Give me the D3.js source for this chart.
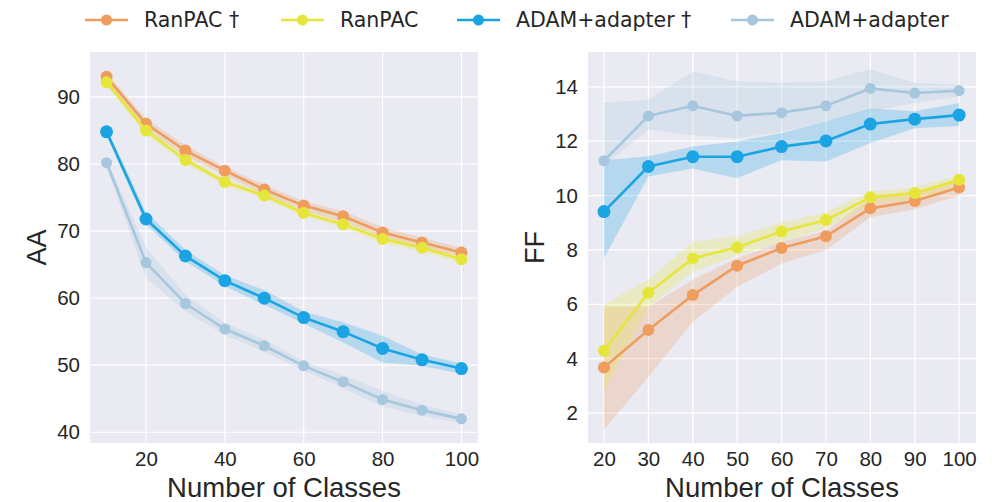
<!DOCTYPE html>
<html>
<head>
<meta charset="utf-8">
<script src="https://cdn.jsdelivr.net/npm/d3@7"></script>
<style>
  body { margin: 0; background: #fff; }
  text { font-family: "Liberation Sans", Arial, sans-serif; fill: #262626; }
  .legend text { font-family: "DejaVu Sans", sans-serif; }
</style>
</head>
<body>
<div id="chart"></div>
<script>
const width = 992;
const height = 502;

// series names and colours
const seriesNames = ["RanPAC †", "RanPAC", "ADAM+adapter †", "ADAM+adapter"];
const seriesColors = ["#EE9D5F", "#E6E63A", "#1AA4E3", "#A6C7DE"];
const markerRadius = [6, 6, 6.5, 5.5];

// left panel: AA
const classesAA = [10, 20, 30, 40, 50, 60, 70, 80, 90, 100];
const aaRanpacDag = [93, 86, 82, 79, 76.2, 73.8, 72.2, 69.8, 68.3, 66.8];
const aaRanpacDagLo = [92.3, 85.2, 81.2, 78.3, 75.5, 73.1, 71.4, 69.0, 67.6, 66.1];
const aaRanpacDagHi = [93.6, 86.8, 82.8, 79.6, 76.9, 74.5, 73.0, 70.6, 69.0, 67.5];
const aaRanpac = [92.2, 85, 80.6, 77.3, 75.3, 72.7, 71, 68.8, 67.5, 65.8];
const aaRanpacLo = [91.7, 84.4, 80.0, 76.8, 74.8, 72.2, 70.5, 68.2, 66.9, 65.2];
const aaRanpacHi = [92.7, 85.6, 81.2, 77.8, 75.8, 73.2, 71.5, 69.4, 68.1, 66.4];
const aaAdamDag = [84.8, 71.8, 66.3, 62.6, 60, 57.1, 55, 52.5, 50.8, 49.5];
const aaAdamDagLo = [84.2, 71.0, 65.5, 61.8, 59.0, 56.2, 53.4, 50.4, 49.9, 48.7];
const aaAdamDagHi = [85.4, 72.8, 67.2, 63.4, 61.2, 58.0, 56.4, 54.4, 51.6, 50.3];
const aaAdam = [80.2, 65.3, 59.2, 55.4, 52.9, 49.9, 47.5, 44.9, 43.3, 42];
const aaAdamLo = [79.6, 63.0, 58.0, 54.5, 52.0, 49.2, 46.6, 43.8, 42.5, 41.3];
const aaAdamHi = [80.8, 67.6, 60.5, 56.3, 53.8, 50.6, 48.5, 46.2, 44.1, 42.7];
const aaXTicks = [20, 40, 60, 80, 100];
const aaYTicks = [40, 50, 60, 70, 80, 90];

// right panel: FF
const classesFF = [20, 30, 40, 50, 60, 70, 80, 90, 100];
const ffRanpacDag = [3.68, 5.06, 6.34, 7.42, 8.07, 8.5, 9.53, 9.8, 10.3];
const ffRanpacDagLo = [1.4, 3.33, 5.36, 6.65, 7.5, 8.0, 9.2, 9.5, 10.0];
const ffRanpacDagHi = [5.9, 5.9, 6.9, 7.7, 8.3, 8.7, 9.9, 10.1, 10.55];
const ffRanpac = [4.29, 6.43, 7.69, 8.1, 8.68, 9.1, 9.94, 10.09, 10.58];
const ffRanpacLo = [2.8, 5.9, 7.2, 7.8, 8.3, 8.8, 9.7, 9.85, 10.35];
const ffRanpacHi = [6.0, 6.9, 8.3, 8.5, 9.0, 9.4, 10.15, 10.3, 10.75];
const ffAdamDag = [9.41, 11.07, 11.43, 11.43, 11.8, 12.01, 12.63, 12.81, 12.96];
const ffAdamDagLo = [7.7, 10.7, 11.0, 10.64, 11.3, 11.25, 11.93, 12.48, 12.56];
const ffAdamDagHi = [11.3, 11.45, 11.8, 11.99, 12.3, 12.72, 13.2, 13.1, 13.4];
const ffAdam = [11.28, 12.93, 13.3, 12.93, 13.05, 13.3, 13.94, 13.77, 13.86];
const ffAdamLo = [11.1, 12.42, 12.23, 12.1, 12.35, 12.72, 13.1, 13.4, 13.64];
const ffAdamHi = [13.4, 13.52, 14.56, 14.2, 14.15, 14.2, 14.65, 14.15, 14.07];
const ffXTicks = [20, 30, 40, 50, 60, 70, 80, 90, 100];
const ffYTicks = [2, 4, 6, 8, 10, 12, 14];

const svg = d3.select("#chart").append("svg")
    .attr("width", width)
    .attr("height", height);

function drawPanel(opts) {
    const x = d3.scaleLinear().domain(opts.xDomain).range([opts.left, opts.right]);
    const y = d3.scaleLinear().domain(opts.yDomain).range([opts.bottom, opts.top]);
    const g = svg.append("g");

    g.append("rect")
        .attr("x", opts.left).attr("y", opts.top)
        .attr("width", opts.right - opts.left)
        .attr("height", opts.bottom - opts.top)
        .attr("fill", "#EAEAF2");

    // grid
    g.selectAll(".gx").data(opts.xTicks).join("line")
        .attr("x1", d => x(d)).attr("x2", d => x(d))
        .attr("y1", opts.top).attr("y2", opts.bottom)
        .attr("stroke", "#fff").attr("stroke-width", 1.2);
    g.selectAll(".gy").data(opts.yTicks).join("line")
        .attr("y1", d => y(d)).attr("y2", d => y(d))
        .attr("x1", opts.left).attr("x2", opts.right)
        .attr("stroke", "#fff").attr("stroke-width", 1.2);

    // axes (no domain line, labels only)
    const xAxis = g.append("g")
        .attr("transform", `translate(0,${opts.bottom})`)
        .call(d3.axisBottom(x).tickValues(opts.xTicks).tickSize(0).tickPadding(8));
    const yAxis = g.append("g")
        .attr("transform", `translate(${opts.left},0)`)
        .call(d3.axisLeft(y).tickValues(opts.yTicks).tickSize(0).tickPadding(10));
    [xAxis, yAxis].forEach(a => {
        a.select(".domain").remove();
        a.selectAll("text")
            .style("font-family", '"Liberation Sans", Arial, sans-serif')
            .style("font-size", "20.5px")
            .attr("fill", "#3a3a3a");
    });

    g.append("text")
        .attr("x", (opts.left + opts.right) / 2)
        .attr("y", 497)
        .attr("text-anchor", "middle")
        .style("font-size", "27.5px")
        .text("Number of Classes");

    g.append("text")
        .attr("transform", `translate(${opts.yLabelX},${(opts.top + opts.bottom) / 2}) rotate(-90)`)
        .attr("text-anchor", "middle")
        .style("font-size", "27px")
        .text(opts.yLabel);

    // bands first, then lines and markers
    opts.series.forEach((s, i) => {
        const area = d3.area()
            .x((d, j) => x(opts.classes[j]))
            .y0((d, j) => y(s.lo[j]))
            .y1((d, j) => y(s.hi[j]));
        g.append("path")
            .attr("d", area(s.mean))
            .attr("fill", seriesColors[i])
            .attr("fill-opacity", 0.25);
    });

    opts.series.forEach((s, i) => {
        const line = d3.line()
            .x((d, j) => x(opts.classes[j]))
            .y(d => y(d));
        g.append("path")
            .attr("d", line(s.mean))
            .attr("fill", "none")
            .attr("stroke", seriesColors[i])
            .attr("stroke-width", 2.6);
        g.selectAll(null).data(s.mean).join("circle")
            .attr("cx", (d, j) => x(opts.classes[j]))
            .attr("cy", d => y(d))
            .attr("r", markerRadius[i])
            .attr("fill", seriesColors[i]);
    });
}

drawPanel({
    left: 90, right: 478, top: 52, bottom: 443,
    xDomain: [5.8, 104.2], yDomain: [38.4, 96.7],
    xTicks: aaXTicks, yTicks: aaYTicks,
    classes: classesAA, yLabel: "AA", yLabelX: 46,
    series: [
        { mean: aaRanpacDag, lo: aaRanpacDagLo, hi: aaRanpacDagHi },
        { mean: aaRanpac, lo: aaRanpacLo, hi: aaRanpacHi },
        { mean: aaAdamDag, lo: aaAdamDagLo, hi: aaAdamDagHi },
        { mean: aaAdam, lo: aaAdamLo, hi: aaAdamHi }
    ]
});

drawPanel({
    left: 588, right: 976, top: 52, bottom: 443,
    xDomain: [16.4, 103.8], yDomain: [0.9, 15.28],
    xTicks: ffXTicks, yTicks: ffYTicks,
    classes: classesFF, yLabel: "FF", yLabelX: 544,
    series: [
        { mean: ffRanpacDag, lo: ffRanpacDagLo, hi: ffRanpacDagHi },
        { mean: ffRanpac, lo: ffRanpacLo, hi: ffRanpacHi },
        { mean: ffAdamDag, lo: ffAdamDagLo, hi: ffAdamDagHi },
        { mean: ffAdam, lo: ffAdamLo, hi: ffAdamHi }
    ]
});

// legend
const legendX = [85, 281, 457, 731];
const legend = svg.append("g").attr("class", "legend");
const item = legend.selectAll("g").data(seriesNames).join("g")
    .attr("transform", (d, i) => `translate(${legendX[i]},20)`);
item.append("line")
    .attr("x1", 0).attr("x2", 43)
    .attr("stroke", (d, i) => seriesColors[i])
    .attr("stroke-width", 2.6);
item.append("circle")
    .attr("cx", 21.5).attr("r", 5.5)
    .attr("fill", (d, i) => seriesColors[i]);
item.append("text")
    .attr("x", 59).attr("dy", "0.36em")
    .style("font-size", "20.5px")
    .attr("fill", "#222")
    .text(d => d);
</script>
</body>
</html>
